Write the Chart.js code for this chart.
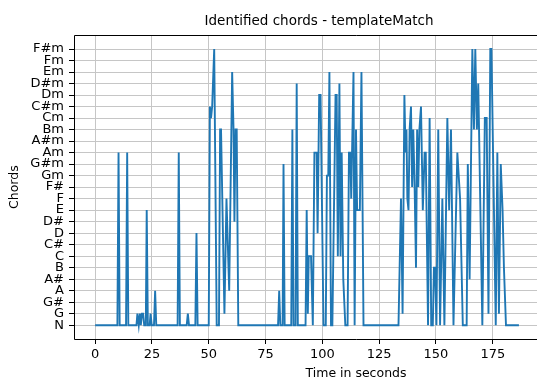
<!DOCTYPE html>
<html>
<head>
<meta charset="utf-8">
<script src="https://cdn.jsdelivr.net/npm/chart.js@4.4.0/dist/chart.umd.min.js"></script>
<style>
  html, body { margin: 0; padding: 0; background: #fff; overflow: hidden; }
  #wrap { width: 537px; height: 382px; overflow: hidden; }
</style>
</head>
<body>
<div id="wrap"><canvas id="chords" width="638" height="382"></canvas></div>
<script>
// chord names, index 0 = no chord
const chordLabels = ['N', 'G', 'G#', 'A', 'A#', 'B', 'C', 'C#', 'D', 'D#', 'E', 'F', 'F#',
  'Gm', 'G#m', 'Am', 'A#m', 'Bm', 'Cm', 'C#m', 'Dm', 'D#m', 'Em', 'Fm', 'F#m'];
const timeTicks = [0, 25, 50, 75, 100, 125, 150, 175];

// detection times (s) and the chord index found at each one
const times = [0, 9.8, 10.3, 10.8, 13.6, 14.1, 14.6, 18.2, 18.6, 19.2, 19.7, 20.1, 20.6, 21.1, 21.6,
  22.3, 22.7, 23.2, 24, 24.4, 24.9, 25.9, 26.4, 26.9, 36.3, 36.8, 37.3, 40.3, 40.8, 41.3, 44.1, 44.6,
  45.1, 50, 50.5, 51, 51.5, 52.4, 53.5, 54.5, 55, 55.4, 56.9, 57.8, 59, 60.3, 60.9, 61.3, 61.8, 62.3, 63,
  80.5, 81, 81.5, 82.5, 82.9, 83.4, 86.3, 86.8, 87.3, 88.2, 88.7, 89.2, 92.6, 93.1, 93.6, 94, 95, 95.8,
  96.5, 97.5, 97.9, 98.6, 99.2, 100.5, 101.5, 102, 102.6, 103.1, 103.8, 104.4, 105.8, 106.3, 106.8,
  107.5, 108, 108.5, 109.2, 110.1, 111.1, 111.7, 112.3, 112.7, 113.7, 114.2, 114.8, 115.3, 116, 116.5,
  117.2, 117.7, 118.1,
  133.5, 134.6, 135.3, 136.1, 136.6, 137, 137.4, 137.9, 138.4, 139, 139.5, 140, 140.6, 141.2, 141.7,
  142.2, 142.7, 143.4, 144.2, 145, 145.5, 146.5, 147.2, 147.9, 148.6, 149.1, 149.6, 150.2, 151, 151.8,
  152.8, 153.7, 155, 155.8, 156.6, 157.7, 159.4, 160.6, 161.8, 163.5, 164, 164.8, 166, 166.7, 167.3,
  168, 168.6, 170.4, 171.5, 172.3, 173.1, 173.9, 174.4, 176.3, 177, 177.7, 178.5, 179.3, 179.9, 180.8,
  186.5];
const chordIdx = [0, 0, 15, 0, 0, 15, 0, 0, 1, 0, 1, 0, 1, 1, 0,
  0, 10, 0, 0, 1, 0, 0, 3, 0, 0, 15, 0, 0, 1, 0, 0, 8,
  0, 0, 19, 18, 19, 24, 0, 0, 17, 17, 1, 11, 3, 22, 17, 9, 17, 17, 0,
  0, 3, 0, 0, 14, 0, 0, 17, 0, 0, 21, 0, 0, 10, 1, 6, 6, 0,
  15, 15, 8, 20, 20, 0, 0, 13, 13, 22, 0, 0, 20, 20, 6,
  21, 6, 15, 4, 0, 0, 15, 15, 11, 22, 0, 17, 10, 10, 10,
  22, 10, 0,
  0, 11, 1, 20, 15, 17, 11, 10, 17, 19, 12, 17, 12, 5, 17,
  12, 17, 19, 10, 15, 15, 0, 18, 0, 0, 5, 5, 0, 17, 0,
  11, 0, 18, 10, 17, 0, 15, 11, 0, 0, 14, 4, 24, 17, 24,
  17, 21, 0, 18, 18, 1, 24, 24, 0, 15, 1, 14, 10, 5, 0,
  0];

const FONT = "'DejaVu Sans', sans-serif";

// left, top and bottom spines of the plot box
const frameBox = {
  id: 'frameBox',
  afterDatasetsDraw(chart) {
    const { ctx, chartArea: a } = chart;
    const l = Math.round(a.left) + 0.5, t = Math.round(a.top) + 0.5, b = Math.round(a.bottom) + 0.5;
    ctx.save();
    ctx.strokeStyle = '#000';
    ctx.lineWidth = 1;
    ctx.beginPath();
    ctx.moveTo(a.right, t);
    ctx.lineTo(l, t);
    ctx.lineTo(l, b);
    ctx.lineTo(a.right, b);
    ctx.stroke();
    ctx.restore();
  }
};

const gridOpts = {
  color: '#c6c6c6',
  lineWidth: 1,
  tickColor: '#000',
  tickLength: 5,
  tickWidth: 1
};

new Chart(document.getElementById('chords'), {
  type: 'line',
  data: {
    datasets: [{
      data: times.map((t, i) => ({ x: t, y: chordIdx[i] })),
      borderColor: '#1f77b4',
      borderWidth: 1.9,
      pointRadius: 0,
      tension: 0,
      fill: false
    }]
  },
  options: {
    responsive: false,
    animation: false,
    layout: { padding: 0 },
    plugins: {
      legend: { display: false },
      tooltip: { enabled: false },
      title: {
        display: true,
        text: 'Identified chords - templateMatch',
        color: '#000',
        font: { family: FONT, size: 13.5, weight: 'normal' },
        padding: { top: 13, bottom: 6 }
      }
    },
    scales: {
      x: {
        type: 'linear',
        min: -9.3,
        max: 238.9,
        afterBuildTicks: s => { s.ticks = timeTicks.map(v => ({ value: v })); },
        afterFit: s => { s.height = 43; },
        border: { display: false },
        grid: gridOpts,
        ticks: {
          color: '#000',
          padding: 3,
          maxRotation: 0,
          font: { family: FONT, size: 13 }
        },
        title: {
          display: true,
          text: 'Time in seconds',
          color: '#000',
          font: { family: FONT, size: 12.5 },
          padding: { top: 0, bottom: 1 }
        }
      },
      y: {
        type: 'linear',
        min: -1.2,
        max: 25.2,
        afterBuildTicks: s => { s.ticks = chordLabels.map((_, i) => ({ value: i })); },
        afterFit: s => { s.width = 74; },
        border: { display: false },
        grid: gridOpts,
        ticks: {
          color: '#000',
          padding: 5,
          autoSkip: false,
          font: { family: FONT, size: 13 },
          callback: v => chordLabels[v]
        },
        title: {
          display: true,
          text: 'Chords',
          color: '#000',
          font: { family: FONT, size: 12.5 },
          padding: { top: 7, bottom: 0 }
        }
      }
    }
  },
  plugins: [frameBox]
});
</script>
</body>
</html>
